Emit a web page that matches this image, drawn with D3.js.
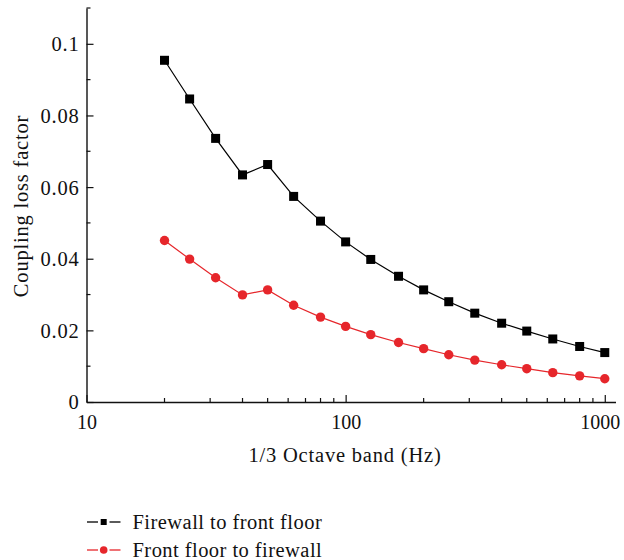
<!DOCTYPE html>
<html>
<head>
<meta charset="utf-8">
<script src="https://cdn.jsdelivr.net/npm/d3@7"></script>
<style>
  html, body { margin: 0; padding: 0; background: #fff; }
  svg { display: block; }
  text { font-family: "Liberation Serif", "Times New Roman", serif; fill: #111; letter-spacing: 0.8px; }
</style>
</head>
<body>
<svg id="chart" width="624" height="560"></svg>
<script>
// 1/3-octave band centre frequencies (Hz)
const bands = [20, 25, 31.5, 40, 50, 63, 80, 100, 125, 160, 200, 250, 315, 400, 500, 630, 800, 1000];
// Coupling loss factor, firewall -> front floor
const firewallToFloor = [0.0954, 0.0846, 0.0736, 0.0634, 0.0663, 0.0574, 0.0505, 0.0447, 0.0398, 0.0351,
                         0.0313, 0.0280, 0.0248, 0.0220, 0.0198, 0.0176, 0.0155, 0.0138];
// Coupling loss factor, front floor -> firewall
const floorToFirewall = [0.0451, 0.0399, 0.0347, 0.0299, 0.0313, 0.0270, 0.0237, 0.0211, 0.0188, 0.0166,
                         0.0149, 0.0132, 0.0117, 0.0104, 0.0093, 0.0082, 0.0073, 0.0065];
const seriesNames = ["Firewall to front floor", "Front floor to firewall"];
const yTickValues = [0, 0.02, 0.04, 0.06, 0.08, 0.1];
const yTickLabels = ["0", "0.02", "0.04", "0.06", "0.08", "0.1"];
const xTickValues = [10, 100, 1000];
const xTickLabels = ["10", "100", "1000"];

const svg = d3.select("#chart");
const plotLeft = 86.5, plotRight = 615.5, plotTop = 8, plotBottom = 402;
const fontSize = "20.5px";

const x = d3.scaleLog().domain([10, 1100]).range([plotLeft, plotRight]);
const y = d3.scaleLinear().domain([0, 0.11]).range([plotBottom, plotTop]);

const axisColor = "#111";
const g = svg.append("g");

// minor ticks
const xMinor = [];
[10, 100].forEach(d => { for (let k = 2; k <= 9; k++) xMinor.push(d * k); });
const yMinor = d3.range(1, 12, 2).map(k => k / 100);

g.selectAll(".xminor").data(xMinor).enter().append("line")
  .attr("x1", d => x(d)).attr("x2", d => x(d))
  .attr("y1", plotBottom).attr("y2", plotBottom - 4)
  .attr("stroke", axisColor).attr("stroke-width", 1.2);
g.selectAll(".yminor").data(yMinor).enter().append("line")
  .attr("x1", plotLeft).attr("x2", plotLeft + 4)
  .attr("y1", d => y(d)).attr("y2", d => y(d))
  .attr("stroke", axisColor).attr("stroke-width", 1.2);

// major axes via d3 axis generators, ticks pointing inward
const xAxis = d3.axisBottom(x).tickValues(xTickValues)
  .tickFormat((d, i) => xTickLabels[i]).tickSizeInner(-7).tickSizeOuter(0).tickPadding(15);
const yAxis = d3.axisLeft(y).tickValues(yTickValues)
  .tickFormat((d, i) => yTickLabels[i]).tickSizeInner(-7).tickSizeOuter(0).tickPadding(7);

const gx = svg.append("g").attr("transform", `translate(0,${plotBottom})`).call(xAxis);
const gy = svg.append("g").attr("transform", `translate(${plotLeft},0)`).call(yAxis);
[gx, gy].forEach(a => {
  a.select(".domain").attr("stroke", axisColor).attr("stroke-width", 1.4);
  a.selectAll(".tick line").attr("stroke", axisColor).attr("stroke-width", 1.2);
  a.selectAll("text").style("font-family", "Liberation Serif, serif").style("font-size", fontSize).attr("fill", "#111");
});
gx.selectAll(".tick text").attr("dy", "0.6em")
  .style("font-size", "20px").style("letter-spacing", "0px")
  .attr("dx", d => d === 1000 ? -5 : 0);
gy.selectAll(".tick text").attr("dy", "0.34em");

// axis titles
svg.append("text").attr("x", 345).attr("y", 462).attr("text-anchor", "middle")
  .style("font-size", fontSize).text("1/3 Octave band (Hz)");
svg.append("text").attr("transform", "translate(28,206) rotate(-90)").attr("text-anchor", "middle")
  .style("font-size", fontSize).text("Coupling loss factor");

// series
const line = d3.line().x(d => x(d[0])).y(d => y(d[1]));
const black = "#000", red = "#e6262b";
const s1 = bands.map((b, i) => [b, firewallToFloor[i]]);
const s2 = bands.map((b, i) => [b, floorToFirewall[i]]);

svg.append("path").datum(s1).attr("d", line).attr("fill", "none").attr("stroke", black).attr("stroke-width", 1.2);
svg.append("path").datum(s2).attr("d", line).attr("fill", "none").attr("stroke", red).attr("stroke-width", 1.2);

const sq = 9;
svg.selectAll(".sq").data(s1).enter().append("rect")
  .attr("x", d => x(d[0]) - sq / 2).attr("y", d => y(d[1]) - sq / 2)
  .attr("width", sq).attr("height", sq).attr("fill", black);
svg.selectAll(".ci").data(s2).enter().append("circle")
  .attr("cx", d => x(d[0])).attr("cy", d => y(d[1])).attr("r", 4.7).attr("fill", red);

// legend
const legend = svg.append("g");
const rows = [{ name: seriesNames[0], color: black, shape: "square", y: 522 },
              { name: seriesNames[1], color: red, shape: "circle", y: 550 }];
rows.forEach(r => {
  legend.append("line").attr("x1", 87).attr("x2", 98).attr("y1", r.y).attr("y2", r.y)
    .attr("stroke", r.color).attr("stroke-width", 1.3);
  legend.append("line").attr("x1", 109.5).attr("x2", 120.5).attr("y1", r.y).attr("y2", r.y)
    .attr("stroke", r.color).attr("stroke-width", 1.3);
  if (r.shape === "square") {
    legend.append("rect").attr("x", 100.7).attr("y", r.y - 3).attr("width", 6).attr("height", 6).attr("fill", r.color);
  } else {
    legend.append("circle").attr("cx", 103.7).attr("cy", r.y).attr("r", 3.8).attr("fill", r.color);
  }
  legend.append("text").attr("x", 132.5).attr("y", r.y + 6.5).style("font-size", fontSize)
    .style("letter-spacing", "0.45px").text(r.name);
});
</script>
</body>
</html>
